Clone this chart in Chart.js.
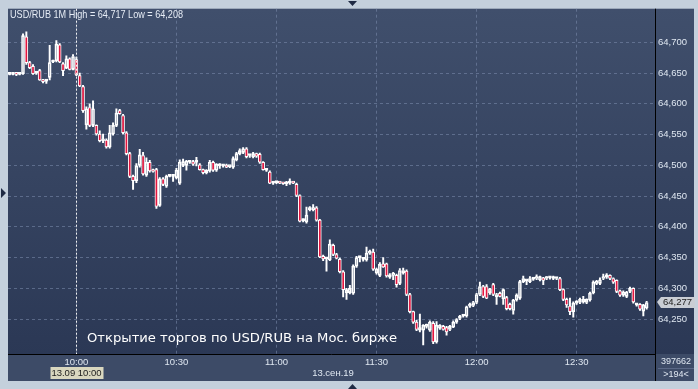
<!DOCTYPE html>
<html>
<head>
<meta charset="utf-8">
<script src="https://cdn.jsdelivr.net/npm/chart.js@4.4.1/dist/chart.umd.min.js"></script>
<style>
  html, body { margin: 0; padding: 0; background: #c4d0dc; }
</style>
</head>
<body>
<canvas id="chart" width="698" height="389"></canvas>
<script>
// 1-minute USD/RUB candles, 13.09.19, starting 9:40
const startTime = '9:40';
const slotCount = 194;   // visible slots on the time axis (">194<")
const tickLabels = ['10:00', '10:30', '11:00', '11:30', '12:00', '12:30'];
const yTicks = [64.25, 64.30, 64.35, 64.40, 64.45, 64.50, 64.55, 64.60, 64.65, 64.70];
const crossTime = '10:00';

const open = [
  64.648, 64.648, 64.649, 64.648, 64.649, 64.709, 64.667, 64.661, 64.650, 64.654,
  64.639, 64.637, 64.643, 64.668, 64.670, 64.696, 64.665, 64.658, 64.673, 64.656,
  64.672, 64.646, 64.628, 64.566, 64.594, 64.565, 64.565, 64.551, 64.540, 64.541,
  64.530, 64.551, 64.565, 64.589, 64.581, 64.553, 64.519, 64.482, 64.475, 64.500,
  64.516, 64.484, 64.505, 64.492, 64.493, 64.435, 64.478, 64.466, 64.482, 64.482,
  64.480, 64.471, 64.500, 64.500, 64.505, 64.506, 64.505, 64.501, 64.493, 64.488,
  64.491, 64.505, 64.492, 64.499, 64.499, 64.500, 64.498, 64.497, 64.509, 64.519,
  64.521, 64.527, 64.516, 64.514, 64.519, 64.518, 64.505, 64.492, 64.489, 64.471,
  64.472, 64.472, 64.471, 64.470, 64.471, 64.472, 64.469, 64.451, 64.410, 64.408,
  64.428, 64.428, 64.431, 64.411, 64.352, 64.348, 64.346, 64.370, 64.355, 64.347,
  64.327, 64.293, 64.293, 64.292, 64.336, 64.350, 64.347, 64.346, 64.357, 64.359,
  64.325, 64.321, 64.340, 64.340, 64.318, 64.321, 64.321, 64.308, 64.325, 64.328,
  64.290, 64.262, 64.245, 64.232, 64.232, 64.238, 64.232, 64.243, 64.213, 64.235,
  64.238, 64.236, 64.233, 64.237, 64.245, 64.251, 64.255, 64.255, 64.271, 64.272,
  64.277, 64.290, 64.303, 64.303, 64.293, 64.306, 64.286, 64.292, 64.283, 64.285,
  64.274, 64.264, 64.281, 64.284, 64.311, 64.312, 64.311, 64.315, 64.316, 64.314,
  64.317, 64.316, 64.317, 64.316, 64.316, 64.316, 64.298, 64.282, 64.271, 64.262,
  64.276, 64.277, 64.278, 64.277, 64.281, 64.293, 64.308, 64.308, 64.316, 64.318,
  64.321, 64.316, 64.313, 64.296, 64.289, 64.287, 64.295, 64.300, 64.273, 64.274,
  64.263, 64.268
];
const high = [
  64.649, 64.650, 64.650, 64.650, 64.714, 64.717, 64.669, 64.664, 64.652, 64.656,
  64.640, 64.639, 64.695, 64.671, 64.703, 64.698, 64.667, 64.678, 64.675, 64.680,
  64.676, 64.650, 64.630, 64.595, 64.600, 64.605, 64.566, 64.556, 64.551, 64.543,
  64.565, 64.569, 64.592, 64.591, 64.583, 64.555, 64.521, 64.484, 64.503, 64.526,
  64.521, 64.512, 64.508, 64.494, 64.495, 64.480, 64.480, 64.484, 64.485, 64.485,
  64.495, 64.509, 64.510, 64.508, 64.507, 64.508, 64.513, 64.503, 64.494, 64.493,
  64.508, 64.507, 64.503, 64.503, 64.501, 64.502, 64.499, 64.514, 64.521, 64.527,
  64.529, 64.529, 64.518, 64.521, 64.520, 64.520, 64.506, 64.494, 64.491, 64.473,
  64.474, 64.473, 64.472, 64.474, 64.478, 64.474, 64.471, 64.452, 64.413, 64.432,
  64.433, 64.436, 64.433, 64.412, 64.354, 64.350, 64.379, 64.372, 64.357, 64.349,
  64.329, 64.300, 64.305, 64.338, 64.352, 64.352, 64.350, 64.367, 64.362, 64.364,
  64.333, 64.342, 64.350, 64.341, 64.324, 64.326, 64.323, 64.332, 64.333, 64.330,
  64.292, 64.263, 64.248, 64.258, 64.241, 64.242, 64.247, 64.246, 64.246, 64.241,
  64.240, 64.238, 64.240, 64.247, 64.251, 64.256, 64.257, 64.271, 64.276, 64.279,
  64.292, 64.310, 64.305, 64.306, 64.300, 64.308, 64.292, 64.294, 64.299, 64.287,
  64.276, 64.282, 64.291, 64.313, 64.320, 64.314, 64.319, 64.317, 64.322, 64.320,
  64.318, 64.319, 64.319, 64.320, 64.318, 64.318, 64.299, 64.284, 64.284, 64.278,
  64.280, 64.284, 64.287, 64.283, 64.294, 64.312, 64.313, 64.317, 64.323, 64.324,
  64.322, 64.317, 64.314, 64.297, 64.296, 64.295, 64.302, 64.301, 64.275, 64.275,
  64.274, 64.279
];
const low = [
  64.647, 64.647, 64.646, 64.647, 64.648, 64.664, 64.657, 64.648, 64.648, 64.638,
  64.634, 64.633, 64.639, 64.667, 64.668, 64.667, 64.646, 64.657, 64.655, 64.655,
  64.646, 64.628, 64.586, 64.559, 64.563, 64.563, 64.549, 64.538, 64.537, 64.528,
  64.528, 64.549, 64.563, 64.583, 64.551, 64.517, 64.480, 64.461, 64.472, 64.497,
  64.484, 64.482, 64.489, 64.489, 64.430, 64.433, 64.467, 64.464, 64.481, 64.474,
  64.478, 64.469, 64.498, 64.492, 64.503, 64.500, 64.499, 64.492, 64.486, 64.486,
  64.489, 64.490, 64.490, 64.495, 64.497, 64.496, 64.496, 64.495, 64.507, 64.517,
  64.519, 64.512, 64.513, 64.512, 64.513, 64.503, 64.492, 64.490, 64.470, 64.469,
  64.470, 64.470, 64.469, 64.467, 64.469, 64.470, 64.449, 64.408, 64.408, 64.406,
  64.426, 64.426, 64.409, 64.350, 64.345, 64.328, 64.345, 64.353, 64.348, 64.325,
  64.286, 64.282, 64.291, 64.290, 64.334, 64.343, 64.344, 64.344, 64.355, 64.329,
  64.323, 64.319, 64.334, 64.318, 64.316, 64.314, 64.302, 64.306, 64.323, 64.288,
  64.260, 64.243, 64.231, 64.229, 64.208, 64.235, 64.230, 64.210, 64.211, 64.233,
  64.232, 64.224, 64.231, 64.236, 64.243, 64.249, 64.253, 64.253, 64.269, 64.270,
  64.275, 64.288, 64.285, 64.283, 64.290, 64.288, 64.274, 64.286, 64.274, 64.265,
  64.265, 64.258, 64.279, 64.282, 64.309, 64.306, 64.309, 64.313, 64.314, 64.312,
  64.306, 64.314, 64.315, 64.314, 64.314, 64.296, 64.280, 64.269, 64.257, 64.253,
  64.274, 64.275, 64.276, 64.275, 64.279, 64.291, 64.306, 64.306, 64.314, 64.316,
  64.314, 64.308, 64.293, 64.287, 64.287, 64.285, 64.293, 64.276, 64.271, 64.264,
  64.255, 64.266
];
const close = [
  64.648, 64.649, 64.648, 64.649, 64.711, 64.667, 64.659, 64.649, 64.650, 64.639,
  64.636, 64.637, 64.667, 64.669, 64.697, 64.668, 64.654, 64.673, 64.656, 64.677,
  64.647, 64.629, 64.589, 64.592, 64.565, 64.592, 64.551, 64.540, 64.543, 64.530,
  64.553, 64.565, 64.585, 64.584, 64.553, 64.519, 64.482, 64.475, 64.499, 64.517,
  64.486, 64.505, 64.491, 64.490, 64.433, 64.478, 64.469, 64.482, 64.483, 64.482,
  64.492, 64.505, 64.506, 64.507, 64.505, 64.502, 64.505, 64.493, 64.488, 64.492,
  64.505, 64.492, 64.502, 64.501, 64.499, 64.497, 64.498, 64.511, 64.519, 64.524,
  64.527, 64.514, 64.516, 64.519, 64.515, 64.505, 64.493, 64.492, 64.471, 64.472,
  64.472, 64.471, 64.470, 64.471, 64.472, 64.471, 64.451, 64.409, 64.411, 64.419,
  64.430, 64.431, 64.411, 64.351, 64.348, 64.350, 64.372, 64.355, 64.349, 64.327,
  64.298, 64.298, 64.300, 64.336, 64.350, 64.350, 64.348, 64.357, 64.360, 64.331,
  64.331, 64.339, 64.335, 64.320, 64.322, 64.324, 64.306, 64.329, 64.329, 64.290,
  64.262, 64.245, 64.233, 64.236, 64.240, 64.240, 64.245, 64.213, 64.240, 64.240,
  64.233, 64.229, 64.238, 64.245, 64.249, 64.255, 64.255, 64.270, 64.274, 64.277,
  64.290, 64.303, 64.287, 64.284, 64.299, 64.290, 64.290, 64.287, 64.298, 64.267,
  64.267, 64.281, 64.289, 64.311, 64.316, 64.312, 64.316, 64.315, 64.319, 64.319,
  64.313, 64.318, 64.317, 64.316, 64.317, 64.298, 64.282, 64.273, 64.262, 64.276,
  64.278, 64.282, 64.282, 64.282, 64.292, 64.310, 64.311, 64.314, 64.319, 64.322,
  64.316, 64.310, 64.295, 64.289, 64.294, 64.294, 64.300, 64.278, 64.273, 64.266,
  64.273, 64.277
];

// time labels for every slot
const times = [];
const [h0, m0] = startTime.split(':').map(Number);
for (let k = 0; k < slotCount; k++) {
    const t = h0 * 60 + m0 + k;
    times.push(Math.floor(t / 60) + ':' + String(t % 60).padStart(2, '0'));
}

const fmt = v => v.toFixed(3).replace('.', ',');
const bodyLo = close.map((c, i) => Math.min(c, open[i]));
const bodyHi = close.map((c, i) => Math.max(c, open[i]));

const FONT = "'Liberation Sans', Arial, sans-serif";
const axisText = '#dfe7f1';
const gridColor = 'rgba(125, 142, 175, 0.55)';

function fitText(ctx, text, x, y, w, font) {
    ctx.font = font;
    const m = ctx.measureText(text).width;
    ctx.save();
    ctx.translate(x, y);
    ctx.scale(w / m, 1);
    ctx.fillText(text, 0, 0);
    ctx.restore();
}

const terminalFrame = {
    id: 'terminalFrame',
    beforeDraw(chart) {
        const ctx = chart.ctx, a = chart.chartArea;
        ctx.save();
        ctx.fillStyle = '#c4d0dc';
        ctx.fillRect(0, 0, chart.width, chart.height);
        const g = ctx.createLinearGradient(0, a.top, 0, a.bottom);
        g.addColorStop(0, '#404f6c');
        g.addColorStop(1, '#2b3855');
        ctx.fillStyle = g;
        ctx.fillRect(a.left, a.top, 694 - a.left, a.bottom - a.top);
        ctx.fillStyle = '#3d4b67';
        ctx.fillRect(a.left, a.bottom, 694 - a.left, 381 - a.bottom);
        ctx.restore();
    },
    afterDatasetsDraw(chart) {
        const ctx = chart.ctx, a = chart.chartArea;
        const xs = chart.scales.x, ys = chart.scales.y;
        const cx = Math.round(xs.getPixelForValue(times.indexOf(crossTime))) + 0.5;
        ctx.save();

        // crosshair
        ctx.strokeStyle = '#f0f0f0';
        ctx.lineWidth = 1;
        ctx.setLineDash([2, 2]);
        ctx.beginPath();
        ctx.moveTo(cx, a.top);
        ctx.lineTo(cx, a.bottom);
        ctx.stroke();
        ctx.setLineDash([]);

        // separators
        ctx.strokeStyle = '#000';
        ctx.beginPath();
        ctx.moveTo(a.right + 0.5, a.top);
        ctx.lineTo(a.right + 0.5, 381);
        ctx.moveTo(a.left, a.bottom + 0.5);
        ctx.lineTo(a.right, a.bottom + 0.5);
        ctx.stroke();

        // header
        ctx.fillStyle = '#e6ecf5';
        ctx.textBaseline = 'middle';
        ctx.textAlign = 'left';
        const head = 'USD/RUB 1M High = ' + fmt(Math.max(...high)) + ' Low = ' + fmt(Math.min(...low));
        fitText(ctx, head, 10, 15, 173, '11px ' + FONT);

        // note
        ctx.fillStyle = '#ffffff';
        fitText(ctx, 'Открытие торгов по USD/RUB на Мос. бирже', 87, 339, 310, '13px DejaVu Sans');

        // last price marker
        const last = close[close.length - 1];
        const py = Math.round(ys.getPixelForValue(last));
        ctx.fillStyle = '#c9cdd4';
        ctx.beginPath();
        ctx.moveTo(657, py);
        ctx.lineTo(661, py - 5);
        ctx.lineTo(695, py - 5);
        ctx.lineTo(695, py + 6);
        ctx.lineTo(661, py + 6);
        ctx.closePath();
        ctx.fill();
        ctx.fillStyle = '#1a1a1a';
        ctx.font = '9.5px ' + FONT;
        ctx.fillText(fmt(last), 663, py + 0.5);

        // crosshair time label
        ctx.fillStyle = '#d9d7bf';
        ctx.fillRect(cx - 26, 367, 53, 12);
        ctx.fillStyle = '#1c1c1c';
        ctx.textAlign = 'center';
        ctx.fillText('13.09 ' + crossTime, cx, 373.5);

        ctx.fillStyle = axisText;
        ctx.fillText('13.сен.19', 333, 373.5);
        ctx.font = '9px ' + FONT;
        ctx.fillText('397662', 676, 362);
        ctx.fillText('>' + slotCount + '<', 676, 374.5);
        ctx.strokeStyle = '#5a6886';
        ctx.beginPath();
        ctx.moveTo(658, 368.5);
        ctx.lineTo(694, 368.5);
        ctx.stroke();

        // scroll arrows
        ctx.fillStyle = '#1f2b44';
        ctx.beginPath();
        ctx.moveTo(348, 1); ctx.lineTo(357, 1); ctx.lineTo(352.5, 6); ctx.closePath();
        ctx.moveTo(348, 389); ctx.lineTo(357, 389); ctx.lineTo(352.5, 384); ctx.closePath();
        ctx.moveTo(1, 188); ctx.lineTo(1, 198); ctx.lineTo(6, 193); ctx.closePath();
        ctx.fill();
        ctx.restore();
    }
};

new Chart(document.getElementById('chart'), {
    type: 'bar',
    data: {
        labels: times,
        datasets: [
            {
                label: 'Body',
                data: open.map((o, i) => [o, close[i]]),
                backgroundColor: close.map((c, i) => c < open[i] ? '#e3163f' : 'rgba(0,0,0,0)'),
                borderColor: '#ffffff',
                borderWidth: 1,
                borderSkipped: false,
                barThickness: 3,
                minBarLength: 2,
                grouped: false
            },
            {
                label: 'Upper wick',
                data: high.map((h, i) => [bodyHi[i], h]),
                backgroundColor: '#ffffff',
                barThickness: 1.3,
                grouped: false
            },
            {
                label: 'Lower wick',
                data: low.map((l, i) => [l, bodyLo[i]]),
                backgroundColor: '#ffffff',
                barThickness: 1.3,
                grouped: false
            }
        ]
    },
    options: {
        responsive: false,
        animation: false,
        layout: { padding: { left: 8, top: 8, right: 5, bottom: 8 } },
        plugins: {
            legend: { display: false },
            tooltip: { enabled: false }
        },
        scales: {
            x: {
                offset: true,
                grid: {
                    offset: false,
                    drawTicks: false,
                    color: ctx => tickLabels.includes(times[ctx.index]) ? gridColor : 'rgba(0,0,0,0)'
                },
                border: { display: false, dash: [3, 3] },
                ticks: {
                    autoSkip: false,
                    maxRotation: 0,
                    padding: 3,
                    color: axisText,
                    font: { family: FONT, size: 9.5 },
                    callback: (v, i) => tickLabels.includes(times[i]) ? times[i] : ''
                },
                afterFit: s => { s.height = 27; }
            },
            y: {
                position: 'right',
                min: 64.1932,
                max: 64.7547,
                afterBuildTicks: s => { s.ticks = yTicks.map(v => ({ value: v })); },
                grid: { drawTicks: false, color: gridColor },
                border: { display: false, dash: [3, 3] },
                ticks: {
                    padding: 3,
                    color: axisText,
                    font: { family: FONT, size: 9.5 },
                    callback: v => fmt(v)
                },
                afterFit: s => { s.width = 38; }
            }
        }
    },
    plugins: [terminalFrame]
});
</script>
</body>
</html>
